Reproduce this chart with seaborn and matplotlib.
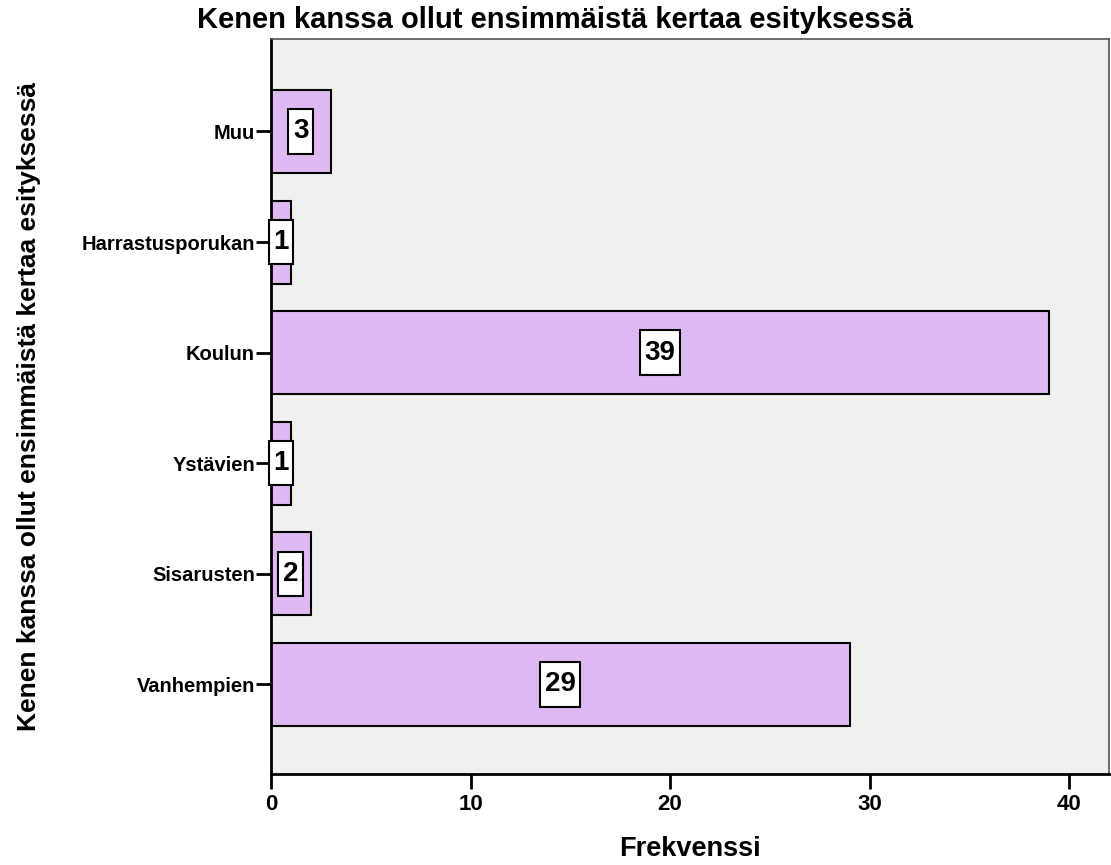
import matplotlib
matplotlib.use("Agg")
import matplotlib.pyplot as plt
from matplotlib.path import Path
import seaborn as sns
import pandas as pd

# Data (top to bottom)
kategoriat = ['Muu', 'Harrastusporukan', 'Koulun', 'Ystävien', 'Sisarusten', 'Vanhempien']
frekvenssit = [3, 1, 39, 1, 2, 29]
x_ticks = [0, 10, 20, 30, 40]

otsikko = 'Kenen kanssa ollut ensimmäistä kertaa esityksessä'

sns.set_style("white")
plt.rcParams['font.family'] = ['Liberation Sans', 'DejaVu Sans']
plt.rcParams['font.weight'] = 'bold'
plt.rcParams['text.color'] = 'black'
plt.rcParams['axes.labelcolor'] = 'black'
plt.rcParams['xtick.color'] = 'black'
plt.rcParams['ytick.color'] = 'black'


def laatikko(x0, y0, width, height, mutation_size):
    # suorakulmio, jossa pystysuunnassa enemmän tilaa kuin vaakasuunnassa
    px = 0.17 * mutation_size
    py = 0.33 * mutation_size
    x0, y0 = x0 - px, y0 - py
    x1, y1 = x0 + width + 2 * px, y0 + height + 2 * py
    return Path([(x0, y0), (x1, y0), (x1, y1), (x0, y1), (x0, y0)], closed=True)


df = pd.DataFrame({'Kategoria': kategoriat, 'Frekvenssi': frekvenssit})

fig = plt.figure(figsize=(11.11, 8.65), dpi=100)
ax = fig.add_axes([0.2439, 0.1052, 0.7543, 0.8497])
ax.set_facecolor('#F0F0F0')

sns.barplot(data=df, x='Frekvenssi', y='Kategoria', orient='h', color='#DFB9F2',
            saturation=1, edgecolor='black', linewidth=1.5, width=0.75, ax=ax)

# arvot valkoisiin laatikoihin palkkien keskelle
for cont in ax.containers:
    ax.bar_label(cont, label_type='center', fontsize=20, fontweight='bold',
                 bbox=dict(boxstyle=laatikko, facecolor='white',
                           edgecolor='black', linewidth=1.5))

ax.set_xlim(0, 42)
ax.set_ylim(5.81, -0.836)
ax.set_xticks(x_ticks)

ax.set_title(otsikko, fontsize=21, fontweight='bold', pad=8, x=0.339)
ax.set_xlabel('Frekvenssi', fontsize=19.5, fontweight='bold', labelpad=15)
ax.set_ylabel(otsikko, fontsize=19, fontweight='bold')
ax.yaxis.set_label_coords(-0.274, 0.5)

ax.tick_params(axis='y', labelsize=14.5, length=10.5, width=2, pad=1,
               direction='out', left=True)
ax.tick_params(axis='x', labelsize=16, length=10.5, width=2, pad=4,
               direction='out', bottom=True)
for lab in ax.get_xticklabels() + ax.get_yticklabels():
    lab.set_fontweight('bold')

for side in ['left', 'bottom']:
    ax.spines[side].set_color('black')
    ax.spines[side].set_linewidth(2)
for side in ['top', 'right']:
    ax.spines[side].set_color('#555555')
    ax.spines[side].set_linewidth(1.2)

plt.savefig('out.png', dpi=100)
